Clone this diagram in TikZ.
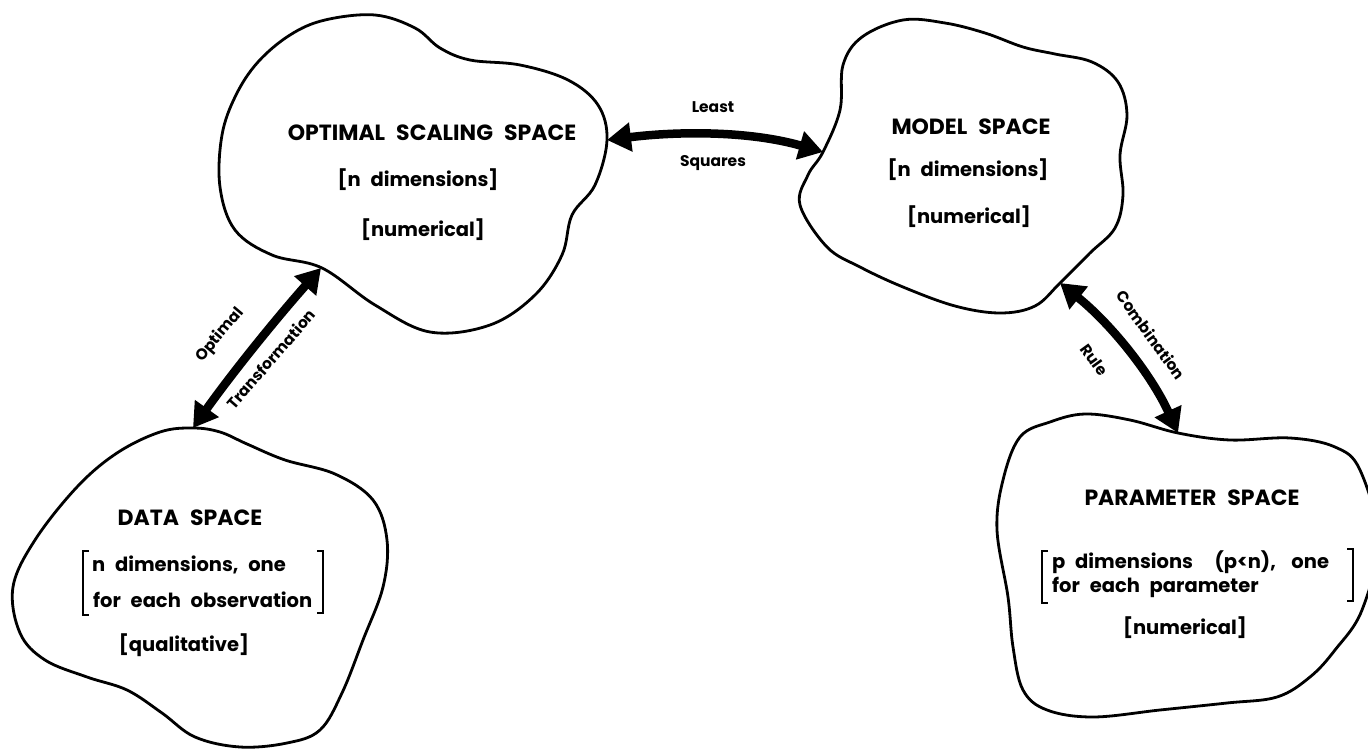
\documentclass[tikz,border=0pt]{standalone}
\usepackage{fontspec}
\setmainfont{Poppins}
\usetikzlibrary{arrows.meta}

\newcommand\spacetitlefont{\bfseries\fontsize{22}{26}\selectfont\setlength{\spaceskip}{0.5em}}
\newcommand\spacebodyfont{\bfseries\fontsize{19.5}{23}\selectfont}
\newcommand\spacewidefont{\bfseries\fontsize{19.5}{23}\selectfont\setlength{\spaceskip}{0.5em}}
\newcommand\arrowlblfont{\bfseries\fontsize{15.5}{18}\selectfont}

\tikzset{
  blob/.style={line width=2.8pt, line join=round},
  title/.style={font=\spacetitlefont, inner sep=0pt},
  body/.style={font=\spacebodyfont, inner sep=0pt},
  widebody/.style={font=\spacewidefont, inner sep=0pt},
  lbl/.style={font=\arrowlblfont, inner sep=0pt},
  brk/.style={line width=2.4pt, line cap=butt, line join=miter},
  bigarrow/.style={line width=8.5pt,
    {Triangle[length=24pt,width=28pt]}-{Triangle[length=24pt,width=28pt]}}
}

\begin{document}
\begin{tikzpicture}[x=1pt,y=-1pt]
\useasboundingbox (0,0) rectangle (1368,752);
\clip (0,0) rectangle (1368,752);

% --- the four spaces, drawn as irregular closed curves ---
\draw[blob] plot[smooth cycle, tension=0.6] coordinates {
  (220,187) (222,135) (236,95) (258,62) (290,35) (325,20) (375,15) (415,28)
  (440,48) (470,60) (520,65) (568,80) (598,105) (607,140) (595,185) (572,215)
  (562,255) (535,295) (490,325) (430,332) (375,305) (322,268) (272,255) (235,230)};

\draw[blob] plot[smooth cycle, tension=0.6] coordinates {
  (800,205) (808,175) (823,152) (840,110) (843,65) (862,37) (903,20) (945,23)
  (985,33) (1023,47) (1055,54) (1092,62) (1118,82) (1127,115) (1120,155)
  (1123,195) (1115,228) (1090,253) (1060,283) (1035,306) (1000,313) (955,306)
  (903,287) (860,267) (827,247)};

\draw[blob] plot[smooth cycle, tension=0.6] coordinates {
  (193,428) (160,432) (117,453) (77,487) (35,540) (13,587) (20,633) (45,660)
  (87,677) (127,690) (162,713) (195,737) (240,747) (287,743) (320,730)
  (342,693) (363,640) (383,587) (387,540) (373,500) (335,474) (285,460)
  (247,444) (220,432)};

\draw[blob] plot[smooth cycle, tension=0.6] coordinates {
  (1020,437) (1050,422) (1085,414) (1130,420) (1178,433) (1230,440) (1290,438)
  (1335,447) (1360,470) (1378,540) (1362,610) (1335,650) (1310,677) (1277,697)
  (1227,703) (1160,710) (1093,717) (1047,710) (1023,690) (1013,647) (1008,597)
  (997,530) (1003,480)};

% --- contact points of the connectors on the outlines ---
\coordinate (osR) at (607,140);
\coordinate (osB) at (321,268);
\coordinate (msL) at (823,152);
\coordinate (msB) at (1060,283);
\coordinate (dsT) at (193,428);
\coordinate (psT) at (1178,433);

% --- texts ---
\node[title] (osT) at (432,133) {OPTIMAL SCALING SPACE};
\node[widebody] (osD) at (418,180) {[n dimensions]};
\node[body]  (osN) at (423,230) {[numerical]};

\node[title] (msT) at (971,127) {MODEL SPACE};
\node[widebody] (msD) at (968,170) {[n dimensions]};
\node[body]  (msN) at (969,217) {[numerical]};

\node[title] (dsTi) at (190,518) {DATA SPACE};
\node[widebody, anchor=west] (dsD1) at (92,565) {n dimensions, one};
\node[widebody, anchor=west] (dsD2) at (93,600) {for each observation};
\node[body]  (dsQ) at (184,645) {[qualitative]};

\node[title] (psTi) at (1192,498) {PARAMETER SPACE};
\node[widebody, anchor=west] (psD1) at (1052,562) {p dimensions\hspace{0.6em} (p<n),\hspace{0.3em} one};
\node[widebody, anchor=west] (psD2) at (1052,587) {for each parameter};
\node[body]  (psN) at (1185,628) {[numerical]};

% tall brackets round the two-line descriptions
\draw[brk] (89,551) -- (83,551) -- (83,615) -- (89,615);
\draw[brk] (317,551) -- (323,551) -- (323,613) -- (317,613);
\draw[brk] (1048,551) -- (1042,551) -- (1042,603) -- (1048,603);
\draw[brk] (1347,549) -- (1353,549) -- (1353,601) -- (1347,601);

% --- connectors ---
\draw[bigarrow] (osR) .. controls (680,131) and (750,131) .. (msL);
\node[lbl] (lsA) at (713,107) {Least};
\node[lbl] (lsB) at (713,163) {Squares};

\draw[bigarrow] (dsT) .. controls (233,372) and (275,320) .. (osB);
\node[lbl, rotate=50] (otA) at (220,335) {Optimal};
\node[lbl, rotate=49] (otB) at (271,359) {Transformation};

\draw[bigarrow] (msB) .. controls (1111,324) and (1151,374) .. (psT);
\node[lbl, rotate=-54] (crA) at (1151,335) {Combination};
\node[lbl, rotate=-54] (crB) at (1094,360) {Rule};
\end{tikzpicture}
\end{document}
